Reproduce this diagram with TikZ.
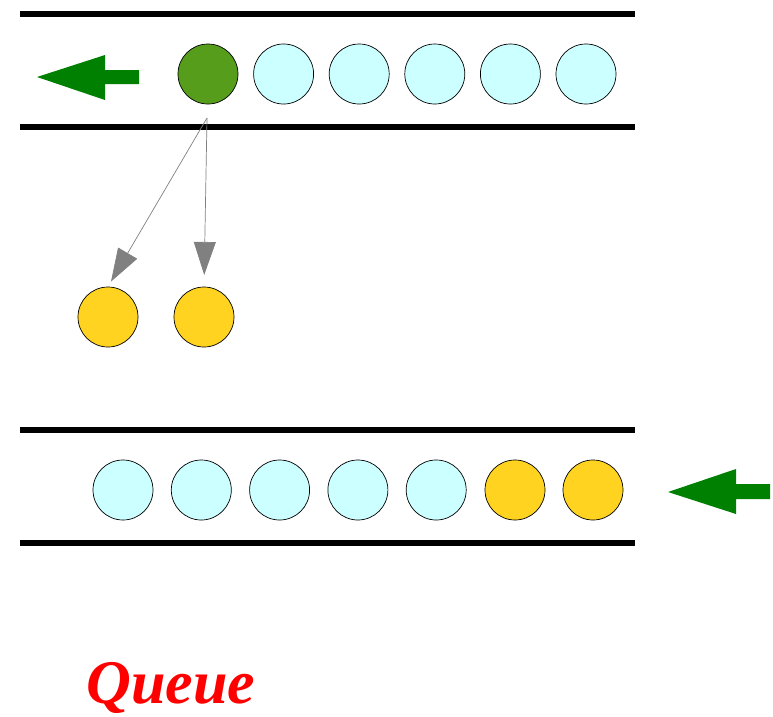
\documentclass[tikz,border=0pt]{standalone}
\usepackage{fontspec}
\setmainfont{Liberation Serif}
\usepackage{xcolor}
\usetikzlibrary{arrows.meta}

\definecolor{verdeflecha}{HTML}{008000}
\definecolor{verdebola}{HTML}{579D1C}
\definecolor{celeste}{HTML}{CCFFFF}
\definecolor{amarillo}{HTML}{FFD320}

\begin{document}
\begin{tikzpicture}[x=0.03cm,y=-0.03cm,
    bola/.style={circle, draw=black, line width=0.6pt, minimum size=1.8cm, inner sep=0pt},
    riel/.style={line width=5.2pt},
    salto/.style={draw=gray, line width=0.6pt, -{Triangle[length=0.99cm,width=0.66cm]}}]
    \useasboundingbox (0,0) rectangle (773,716);

    % Cola de arriba: se saca el primero
    \draw[riel] (20,14) -- (635,14);
    \draw[riel] (20,127) -- (635,127);
    \fill[verdeflecha] (37,77) -- (105,55) -- (105,70) -- (139,70) -- (139,84)
        -- (105,84) -- (105,100) -- cycle;
    \node[bola, fill=verdebola] (frente) at (208,74) {};
    \foreach \i in {1,...,5}
        \node[bola, fill=celeste] (arriba\i) at ({208+75.6*\i},74) {};

    % Elementos que salen
    \coordinate (salida) at (207,118);
    \node[bola, fill=amarillo] (saca1) at (108,317) {};
    \node[bola, fill=amarillo] (saca2) at (204,317) {};
    \draw[salto, shorten >=5] (salida) -- (saca1.north);
    \draw[salto, shorten >=10] (salida) -- (saca2.north);

    % Cola de abajo: se agregan al final
    \draw[riel] (20,430) -- (635,430);
    \draw[riel] (20,543) -- (635,543);
    \foreach \i in {0,...,4}
        \node[bola, fill=celeste] (abajo\i) at ({123+78.3*\i},490) {};
    \node[bola, fill=amarillo] (abajo5) at (515,490) {};
    \node[bola, fill=amarillo] (abajo6) at (593,490) {};
    \fill[verdeflecha] (668,492) -- (736,469) -- (736,484) -- (770,484) -- (770,499)
        -- (736,499) -- (736,514) -- cycle;

    % Titulo
    \node[text=red, inner sep=0pt, anchor=base west,
          font=\fontsize{53}{62}\selectfont\bfseries\itshape] (titulo) at (86,703) {Queue};
\end{tikzpicture}
\end{document}
